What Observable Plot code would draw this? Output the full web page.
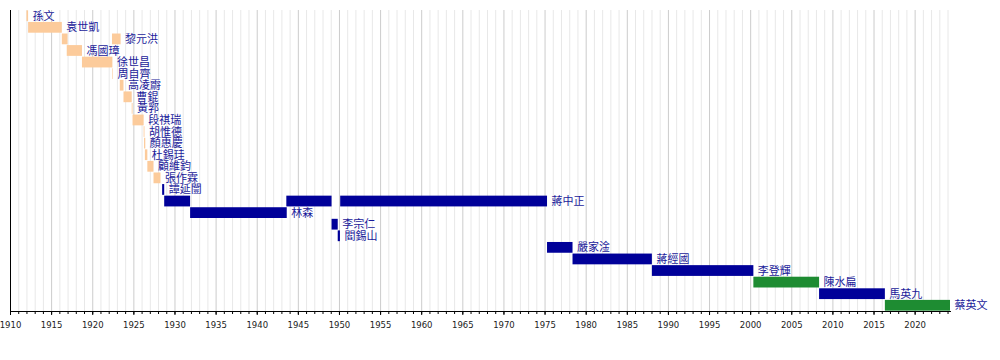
<!DOCTYPE html>
<html>
<head>
<meta charset="utf-8">
<script src="https://cdn.jsdelivr.net/npm/d3@7"></script>
<script src="https://cdn.jsdelivr.net/npm/@observablehq/plot@0.6"></script>
<style>
  html, body { margin: 0; padding: 0; background: #fff; }
  #chart { width: 1000px; height: 360px; }
</style>
</head>
<body>
<div id="chart"></div>
<script>
// Rows (top to bottom)
const names = ["孫文","袁世凱","黎元洪","馮國璋","徐世昌","周自齊","高凌霨","曹錕","黃郛","段祺瑞",
  "胡惟德","顏惠慶","杜錫珪","顧維鈞","張作霖","譚延闓","蔣中正","林森","李宗仁","閻錫山",
  "嚴家淦","蔣經國","李登輝","陳水扁","馬英九","蔡英文"];

// Terms of office (decimal years)
const termName  = ["孫文","袁世凱","黎元洪","馮國璋","徐世昌","周自齊","黎元洪","高凌霨","曹錕","黃郛",
  "段祺瑞","胡惟德","顏惠慶","杜錫珪","顧維鈞","張作霖","譚延闓","蔣中正","林森","蔣中正",
  "李宗仁","閻錫山","蔣中正","嚴家淦","蔣經國","李登輝","陳水扁","馬英九","蔡英文"];
const termStart = [1912.0,1912.2,1916.3,1916.9,1918.75,1922.45,1922.4,1923.35,1923.8,1924.8,
  1924.9,1926.25,1926.3,1926.4,1926.7,1927.45,1928.5,1928.75,1931.9,1943.6,
  1949.1,1949.85,1950.15,1975.3,1978.4,1988.05,2000.39,2008.38,2016.38];
const termEnd   = [1912.2,1916.3,1917.0,1918.75,1922.45,1922.52,1923.45,1923.8,1924.8,1924.9,
  1926.25,1926.35,1926.45,1926.7,1927.45,1928.3,1928.75,1931.9,1943.65,1949.1,
  1949.85,1950.12,1975.3,1978.4,1988.05,2000.39,2008.38,2016.38,2024.3];
const termParty = ["北洋","北洋","北洋","北洋","北洋","北洋","北洋","北洋","北洋","北洋",
  "北洋","北洋","北洋","北洋","北洋","北洋","國民黨","國民黨","國民黨","國民黨",
  "國民黨","國民黨","國民黨","國民黨","國民黨","國民黨","民進黨","國民黨","民進黨"];

const parties = ["北洋","國民黨","民進黨"];
const partyColors = ["#fccb9b","#000099","#1e8c32"];

const xStart = 1910, xEnd = 2024.3;
const majorTicks = d3.range(1910, 2021, 5);
const minorTicks = d3.range(1910, 2025, 1);

const terms = termName.map((n, i) => ({name: n, start: termStart[i], end: termEnd[i], party: termParty[i]}));
const labels = names.map(n => ({name: n, end: d3.max(terms.filter(t => t.name === n), t => t.end)}));

const chart = Plot.plot({
  width: 1000,
  height: 360,
  marginLeft: 10,
  marginRight: 50,
  marginTop: 10,
  marginBottom: 49,
  style: {fontFamily: "DejaVu Sans", fontSize: "8.5px", color: "#222", background: "#fff"},
  x: {domain: [xStart, xEnd]},
  y: {type: "band", domain: names, paddingInner: 0.07, paddingOuter: 0.03, round: false, axis: null},
  color: {domain: parties, range: partyColors},
  marks: [
    Plot.ruleX(minorTicks.filter(d => d % 5 !== 0), {stroke: "#e8e8e8", strokeWidth: 1}),
    Plot.ruleX(majorTicks, {stroke: "#cccccc", strokeWidth: 1}),
    Plot.barX(terms, {x1: "start", x2: "end", y: "name", fill: "party"}),
    Plot.text(labels, {x: "end", y: "name", text: "name", dx: 4, textAnchor: "start",
      fill: "#1a1a9a", fontSize: 11, fontFamily: "Noto Sans CJK TC"}),
    Plot.axisX({ticks: minorTicks, tickSize: 3, tickFormat: () => "", stroke: "#000"}),
    Plot.axisX({ticks: majorTicks, tickSize: 4, tickPadding: 6, tickFormat: d => String(d), stroke: "#000", fill: "#222"}),
    Plot.frame({anchor: "bottom", stroke: "#000"}),
    Plot.frame({anchor: "left", stroke: "#000"})
  ]
});
document.getElementById("chart").appendChild(chart);
</script>
</body>
</html>
